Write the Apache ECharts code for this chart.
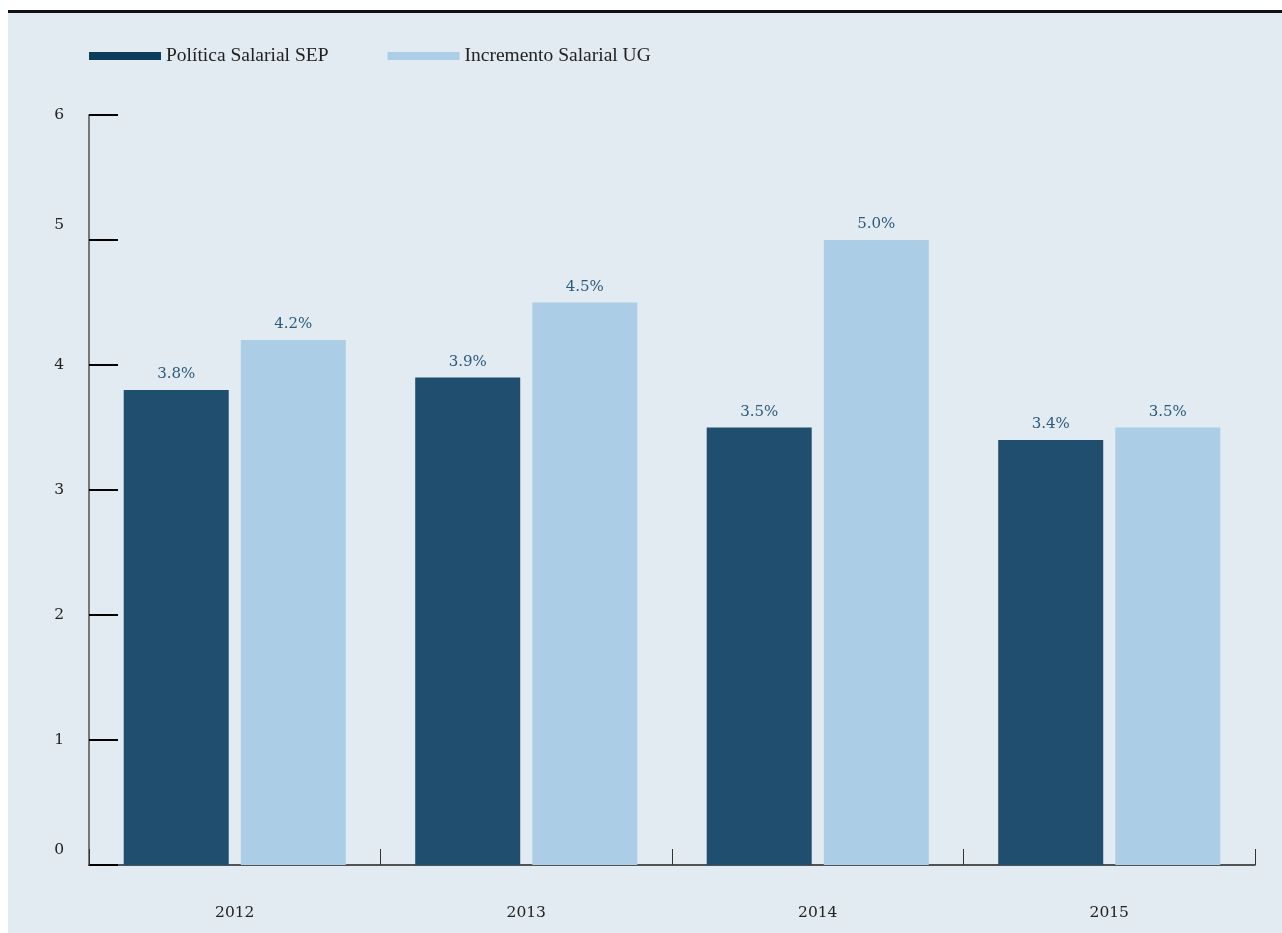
<!DOCTYPE html>
<html><head><meta charset="utf-8">
<script src="https://cdn.jsdelivr.net/npm/echarts@6/dist/echarts.min.js"></script>
<style>html,body{margin:0;padding:0;background:#fff}#c{width:1282px;height:933px}</style>
</head><body><div id="c"></div>
<script>
const categories = ['2012', '2013', '2014', '2015'];
const sepValues = [3.8, 3.9, 3.5, 3.4];
const ugValues = [4.2, 4.5, 5.0, 3.5];
const seriesNames = ['Política Salarial SEP', 'Incremento Salarial UG'];
const yTicks = [0, 1, 2, 3, 4, 5, 6];

const chart = echarts.init(document.getElementById('c'));
const serif = 'DejaVu Serif';
const labelFmt = p => p.value.toFixed(1) + '%';
chart.setOption({
  animation: false,
  graphic: [
    { type: 'rect', z: -10, shape: { x: 8, y: 12, width: 1274, height: 921 }, style: { fill: '#e2ebf1' } },
    { type: 'rect', z: -9, shape: { x: 8, y: 10, width: 1274, height: 3 }, style: { fill: '#111' } }
  ],
  legend: {
    left: 84, top: 41, itemWidth: 72, itemHeight: 8, itemGap: 59, icon: 'rect',
    textStyle: { fontFamily: 'Liberation Serif', fontSize: 19.5, color: '#222', padding: [0, 0, 0, 0] },
    data: [
      { name: seriesNames[0], itemStyle: { color: '#0c3d5b' } },
      { name: seriesNames[1], itemStyle: { color: '#abcee6' } }
    ]
  },
  grid: { left: 89, right: 27, top: 115, bottom: 68 },
  xAxis: {
    type: 'category', data: categories,
    axisLine: { show: true, lineStyle: { color: '#222', width: 1.5 } },
    axisTick: { show: true, interval: 0, inside: true, length: 16, alignWithLabel: false, lineStyle: { color: '#333', width: 1 } },
    axisLabel: { margin: 40, fontFamily: serif, fontSize: 15.5, color: '#222' }
  },
  yAxis: {
    type: 'value', min: yTicks[0], max: yTicks[yTicks.length - 1], interval: 1,
    splitLine: { show: false },
    axisLine: { show: true, lineStyle: { color: '#777', width: 2 } },
    axisTick: { show: true, inside: true, length: 29, lineStyle: { color: '#000', width: 2 } },
    axisLabel: {
      margin: 25, fontFamily: serif, fontSize: 15.5, color: '#222',
      formatter: v => (v === 5 || v === 0) ? '{up|' + v + '}' : '{n|' + v + '}',
      rich: {
        up: { fontFamily: serif, fontSize: 15.5, color: '#222', padding: [0, 0, 30, 0] },
        n: { fontFamily: serif, fontSize: 15.5, color: '#222', padding: [0, 0, 0, 0] }
      }
    }
  },
  series: [
    {
      name: seriesNames[0], type: 'bar', data: sepValues, barWidth: 105, barGap: '11.5%',
      itemStyle: { color: '#1f4e6e' },
      label: { show: true, position: 'top', distance: 8, formatter: labelFmt, fontFamily: serif, fontSize: 15, color: '#2b5a7e' }
    },
    {
      name: seriesNames[1], type: 'bar', data: ugValues, barWidth: 105,
      itemStyle: { color: '#abcee6' },
      label: { show: true, position: 'top', distance: 8, formatter: labelFmt, fontFamily: serif, fontSize: 15, color: '#2b5a7e' }
    }
  ]
});
</script></body></html>
